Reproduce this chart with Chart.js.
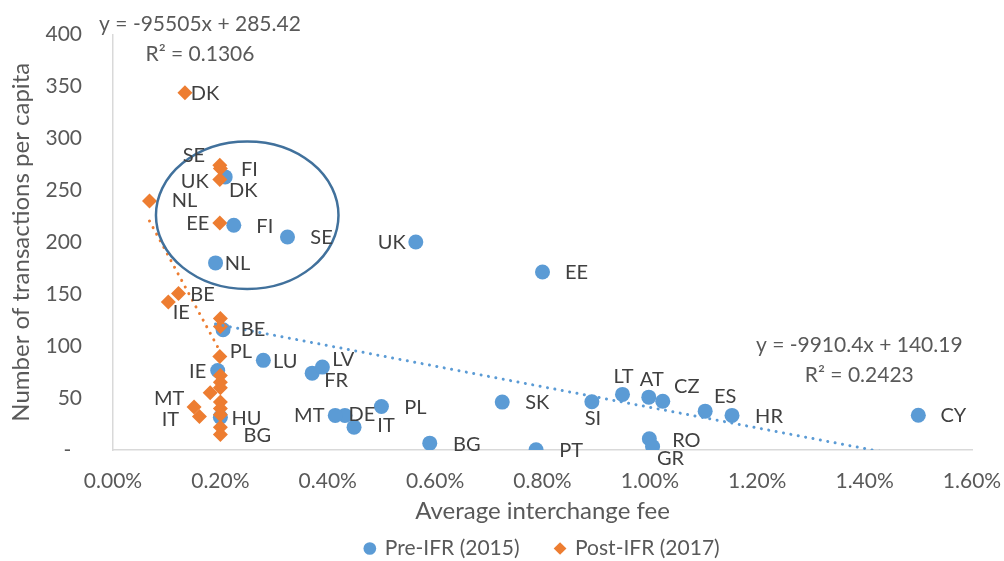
<!DOCTYPE html>
<html>
<head>
<meta charset="utf-8">
<script src="https://cdn.jsdelivr.net/npm/chart.js@4.4.0/dist/chart.umd.min.js"></script>
<style>
  html, body { margin: 0; padding: 0; background: #fff; }
</style>
</head>
<body>
<canvas id="chartIFR" width="1004" height="561"></canvas>
<script>
// ── data: pre-IFR (2015) ──
const preCountries = ['CY','HR','ES','CZ','AT','LT','SI','RO','GR','PT','BG','SK','PL','IT','DE','MT','FR','LV','LU','IE','HU','BE','NL','FI','SE','DK','UK','EE'];
const preFee = [0.01500,0.01153,0.01103,0.01024,0.00998,0.00949,0.00892,0.00999,0.01005,0.00788,0.00590,0.00725,0.00500,0.00449,0.00432,0.00414,0.00371,0.00390,0.00280,0.00195,0.00200,0.00205,0.00191,0.00225,0.00325,0.00209,0.00564,0.00800];
const preTx  = [33.5,33.3,37.4,47.0,50.9,53.5,46.5,10.8,3.4,0.2,6.6,46.1,41.9,22.0,33.3,33.3,74.0,79.8,86.3,76.6,31.6,115.8,180.1,216.4,205.1,262.9,200.3,171.4];

// ── data: post-IFR (2017) ── (blank name = point without a label)
const postCountries = ['DK','SE','FI','UK','NL','EE','BE','IE','','','PL','','','','','','','MT','IT','','','BG'];
const postFee = [0.00134,0.00199,0.00200,0.00199,0.00068,0.00199,0.00122,0.00103,0.00200,0.00200,0.00199,0.00200,0.00200,0.00200,0.00181,0.00200,0.00200,0.00151,0.00161,0.00200,0.00200,0.00200];
const postTx  = [343.9,274.2,271.0,260.4,239.8,218.6,150.6,142.5,126.5,119.0,90.1,71.8,65.3,60.0,55.0,46.1,40.0,41.3,32.3,34.0,22.0,15.0];

// ── linear trendlines as printed on the chart ──
const preTrend  = { slope: -9910.4, intercept: 140.19, r2: '0.2423' };
const postTrend = { slope: -95505,  intercept: 285.42, r2: '0.1306' };

// axis ticks
const xTickStep = 0.002, xMax = 0.016;
const yTickStep = 50, yMax = 400;

// label placement (pixel offset from the marker centre)
const preLabelOffset = {
  CY:[35,0], HR:[37,1], ES:[20,-15], CZ:[24,-15], AT:[3,-18], LT:[1,-18], SI:[1,17],
  RO:[37,2], GR:[18,12], PT:[35,1], BG:[37,1], SK:[35,0], PL:[34,1], IT:[32,-2],
  DE:[17,-1], MT:[-26,0], FR:[24,7], LV:[21,-8], LU:[22,1], IE:[-20,1], HU:[26,1],
  BE:[30,0], NL:[22,1], FI:[31,1], SE:[34,1], DK:[18,14], UK:[-24,1], EE:[34,1]
};
const postLabelOffset = {
  DK:[20,1], SE:[-26,-10], FI:[29,1], UK:[-25,2], NL:[35,0], EE:[-22,1],
  BE:[24,1], IE:[13,11], PL:[21,-5], MT:[-25,-9], IT:[-29,3], BG:[37,1]
};

const blue = '#5B9BD5';
const orange = '#ED7D31';
const textGrey = '#595959';

Chart.defaults.font.family = "Lato, 'Open Sans', sans-serif";

function points(xs, ys) { return xs.map((v, i) => ({ x: v, y: ys[i] })); }
function trendPoints(t, xs) {
  const lo = Math.min(...xs), hi = Math.max(...xs);
  return [{ x: lo, y: t.intercept + t.slope * lo }, { x: hi, y: t.intercept + t.slope * hi }];
}

// draws country labels, the ellipse and the trendline equations
const annotations = {
  id: 'annotations',
  afterDatasetsDraw(chart) {
    const { ctx, scales: { x, y } } = chart;
    ctx.save();

    // ellipse around the high-volume cluster
    const cx = x.getPixelForValue(0.0025), cy = y.getPixelForValue(226);
    const rx = x.getPixelForValue(0.0042) - cx, ry = cy - y.getPixelForValue(297);
    ctx.beginPath();
    ctx.ellipse(cx, cy, rx, ry, 0, 0, Math.PI * 2);
    ctx.strokeStyle = '#41719C';
    ctx.lineWidth = 2.5;
    ctx.stroke();

    // country labels
    ctx.font = "20px Lato, 'Open Sans', sans-serif";
    ctx.fillStyle = '#404040';
    ctx.textAlign = 'center';
    ctx.textBaseline = 'middle';
    chart.data.datasets.forEach((ds, i) => {
      if (!ds.countryNames) return;
      chart.getDatasetMeta(i).data.forEach((pt, j) => {
        const name = ds.countryNames[j];
        if (!name) return;
        const off = ds.labelOffset[name] || [25, 0];
        ctx.fillText(name, pt.x + off[0], pt.y + off[1]);
      });
    });

    // trendline equations
    ctx.font = "21px Lato, 'Open Sans', sans-serif";
    ctx.fillStyle = textGrey;
    const eq = (t) => 'y = ' + t.slope + 'x + ' + t.intercept;
    ctx.fillText(eq(postTrend), x.getPixelForValue(0.00162), y.getPixelForValue(410));
    ctx.fillText('R² = ' + postTrend.r2, x.getPixelForValue(0.00162), y.getPixelForValue(381));
    ctx.fillText(eq(preTrend), x.getPixelForValue(0.0139), y.getPixelForValue(100.7));
    ctx.fillText('R² = ' + preTrend.r2, x.getPixelForValue(0.0139), y.getPixelForValue(71.8));
    ctx.restore();
  }
};

new Chart(document.getElementById('chartIFR'), {
  type: 'scatter',
  data: {
    datasets: [
      {
        label: 'Pre-IFR (2015)',
        data: points(preFee, preTx),
        countryNames: preCountries,
        labelOffset: preLabelOffset,
        backgroundColor: blue,
        borderColor: blue,
        pointStyle: 'circle',
        pointRadius: 7.5,
        borderWidth: 0,
        order: 4
      },
      {
        label: 'Post-IFR (2017)',
        data: points(postFee, postTx),
        countryNames: postCountries,
        labelOffset: postLabelOffset,
        backgroundColor: orange,
        borderColor: orange,
        pointStyle: 'rectRot',
        pointRadius: 7.5,
        borderWidth: 0,
        order: 3
      },
      {
        type: 'line',
        label: 'post trend',
        data: trendPoints(postTrend, postFee),
        borderColor: orange,
        borderWidth: 3,
        borderDash: [0.01, 7.5],
        borderCapStyle: 'round',
        pointRadius: 0,
        fill: false,
        order: 2
      },
      {
        type: 'line',
        label: 'pre trend',
        data: trendPoints(preTrend, preFee),
        borderColor: blue,
        borderWidth: 3,
        borderDash: [0.01, 7.5],
        borderCapStyle: 'round',
        pointRadius: 0,
        fill: false,
        order: 1
      }
    ]
  },
  options: {
    responsive: false,
    animation: false,
    layout: { padding: { top: 34.5, right: 32, left: 0, bottom: -8 } },
    plugins: {
      tooltip: { enabled: false },
      legend: {
        position: 'bottom',
        fullSize: false,
        labels: {
          usePointStyle: true,
          boxWidth: 9,
          boxHeight: 9,
          padding: 36,
          color: textGrey,
          font: { size: 21 },
          filter: item => item.datasetIndex < 2,
          sort: (a, b) => a.datasetIndex - b.datasetIndex
        }
      }
    },
    scales: {
      x: {
        type: 'linear',
        min: 0,
        max: xMax,
        grid: { display: false, drawTicks: false },
        border: { color: '#D9D9D9', width: 1.5 },
        ticks: {
          stepSize: xTickStep,
          padding: 19,
          color: textGrey,
          font: { size: 21 },
          callback: v => (v * 100).toFixed(2) + '%'
        },
        title: {
          display: true,
          text: 'Average interchange fee',
          color: textGrey,
          font: { size: 24 },
          padding: { top: 0, bottom: -24 }
        },
        afterFit: s => { s.height = 52; s.paddingLeft = 0; s.paddingRight = 0; }
      },
      y: {
        min: 0,
        max: yMax,
        grid: { display: false, drawTicks: false },
        border: { color: '#D9D9D9', width: 1.5 },
        ticks: {
          stepSize: yTickStep,
          padding: 31,
          color: textGrey,
          font: { size: 21 },
          callback: v => (v === 0 ? '-  ' : v)
        },
        title: {
          display: true,
          text: 'Number of transactions per capita',
          color: textGrey,
          font: { size: 24 },
          padding: { top: 7, bottom: 0 }
        },
        afterFit: s => { s.width = 113; s.paddingTop = 0; s.paddingBottom = 0; }
      }
    }
  },
  plugins: [annotations]
});
</script>
</body>
</html>
